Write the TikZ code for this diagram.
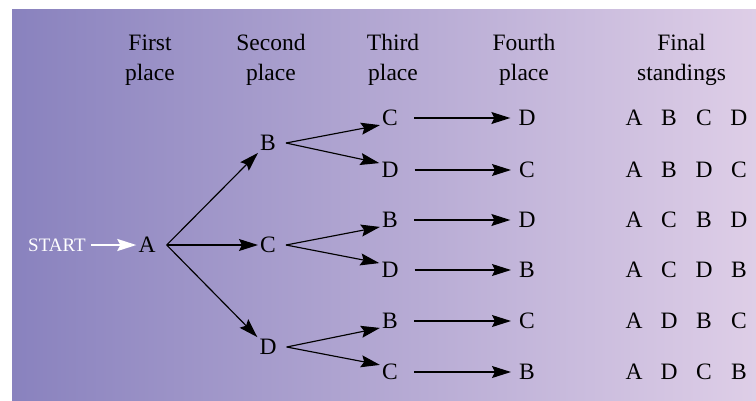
\documentclass[tikz,border=0pt]{standalone}
\usepackage{fontspec}
\setmainfont{Liberation Serif}
\usetikzlibrary{arrows.meta}
\definecolor{bgleft}{RGB}{137,130,190}
\definecolor{bgright}{RGB}{222,206,231}
\tikzset{
  lbl/.style={inner sep=2pt, font=\fontsize{23.5}{30}\selectfont, text=black},
  hdr/.style={inner sep=0pt, align=center, font=\fontsize{23.5}{30}\selectfont, text=black},
  arr/.style={line width=1.15pt, -{Stealth[length=19pt,width=12pt,inset=3pt]}},
  warr/.style={line width=2pt, white, -{Stealth[length=19pt,width=12pt,inset=3pt]}},
  fin/.style={inner sep=0pt, font=\fontsize{23.5}{30}\selectfont}
}
\newcommand{\fb}[1]{\makebox[35pt]{#1}}
\begin{document}
\begin{tikzpicture}[x=1pt,y=-1pt]
\useasboundingbox (0,0) rectangle (756,400);
\shade[left color=bgleft, right color=bgright] (12,9) rectangle (756,400);

% headers
\node[hdr] (h1) at (150,60) {First\\place};
\node[hdr] (h2) at (271,60) {Second\\place};
\node[hdr] (h3) at (393,60) {Third\\place};
\node[hdr] (h4) at (524,60) {Fourth\\place};
\node[hdr] (h5) at (681.5,60) {Final\\standings};

% start
\node[inner sep=3pt, text=white, font=\fontsize{19}{20}\selectfont] (st) at (57,245) {START};
\node[lbl] (A) at (147,245) {A};

% second level
\node[lbl] (B2) at (268,143) {B};
\node[lbl] (C2) at (268,245) {C};
\node[lbl] (D2) at (268,347) {D};

% third level
\node[lbl] (C3a) at (390,118) {C};
\node[lbl] (D3a) at (390,170) {D};
\node[lbl] (B3b) at (390,220) {B};
\node[lbl] (D3b) at (390,270) {D};
\node[lbl] (B3c) at (390,321) {B};
\node[lbl] (C3c) at (390,372) {C};

% fourth level
\node[lbl] (D4a) at (527,118) {D};
\node[lbl] (C4a) at (527,170) {C};
\node[lbl] (D4b) at (527,220) {D};
\node[lbl] (B4b) at (527,270) {B};
\node[lbl] (C4c) at (527,321) {C};
\node[lbl] (B4c) at (527,372) {B};

% final standings
\node[fin] (f1) at (686.5,118) {\fb{A}\fb{B}\fb{C}\fb{D}};
\node[fin] (f2) at (686.5,170) {\fb{A}\fb{B}\fb{D}\fb{C}};
\node[fin] (f3) at (686.5,220) {\fb{A}\fb{C}\fb{B}\fb{D}};
\node[fin] (f4) at (686.5,270) {\fb{A}\fb{C}\fb{D}\fb{B}};
\node[fin] (f5) at (686.5,321) {\fb{A}\fb{D}\fb{B}\fb{C}};
\node[fin] (f6) at (686.5,372) {\fb{A}\fb{D}\fb{C}\fb{B}};

% arrows
\draw[warr, shorten <=2pt] (st.east) -- (A.west);
\draw[arr] ([xshift=9pt]A.east) -- (B2.south west);
\draw[arr] ([xshift=9pt]A.east) -- (C2.west);
\draw[arr] ([xshift=9pt]A.east) -- (D2.north west);

\foreach \p/\u/\l in {B2/C3a/D3a, C2/B3b/D3b, D2/B3c/C3c}{
  \draw[arr] ([xshift=8pt]\p.east) -- ([yshift=3pt]\u.south west);
  \draw[arr] ([xshift=8pt]\p.east) -- ([yshift=-3pt]\l.north west);
}

\foreach \a/\b in {C3a/D4a, D3a/C4a, B3b/D4b, D3b/B4b, B3c/C4c, C3c/B4c}{
  \draw[arr, shorten <=14pt, shorten >=6pt] (\a.east) -- (\b.west);
}
\end{tikzpicture}
\end{document}
